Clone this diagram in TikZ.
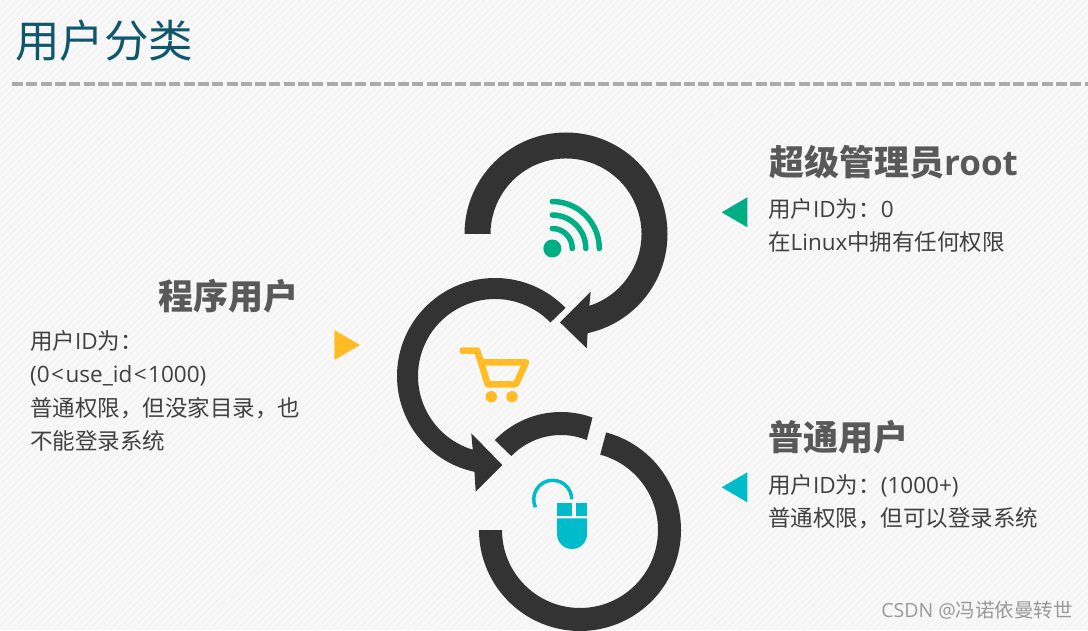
\documentclass[tikz,border=0pt]{standalone}
\usepackage{fontspec}
\setmainfont{Open Sans}
\newfontfamily\cjk{Noto Sans CJK SC}
\newcommand{\wcolon}{\char"FF1A\relax}
\newcommand{\wcomma}{\char"FF0C\relax}
\usepackage{tikz}
\usetikzlibrary{positioning,patterns.meta}
\definecolor{ringdark}{RGB}{51,51,51}
\definecolor{titleteal}{RGB}{15,88,108}
\definecolor{headgrey}{RGB}{89,89,89}
\definecolor{bodygrey}{RGB}{64,64,64}
\definecolor{wifigreen}{RGB}{0,174,132}
\definecolor{cartyellow}{RGB}{255,188,36}
\definecolor{mouseteal}{RGB}{0,188,203}
\definecolor{paper}{RGB}{245,245,245}

\begin{document}
\begin{tikzpicture}[x=1pt, y=1pt,
    ring/.style={fill=ringdark},
    heading/.style={inner sep=0pt, anchor=base west, text=headgrey, font=\fontsize{35}{35}\selectfont\bfseries},
    body/.style={inner sep=0pt, anchor=north west, align=left, text=bodygrey,
                 font=\fontsize{22.5}{33.5}\selectfont},
    curved/.style={line width=5.5pt, line cap=round}]
\useasboundingbox (0,0) rectangle (1088,630);
\clip (0,0) rectangle (1088,630);
% background
\fill[paper] (0,0) rectangle (1088,630);
\fill[pattern={Lines[angle=45,distance=5pt,line width=1pt]}, pattern color=white!75!paper] (0,0) rectangle (1088,630);

% title
\node[inner sep=0pt, anchor=base west, text=titleteal, font=\fontsize{44.5}{44.5}\selectfont\cjk] (title) at (15,572) {用户分类};
\coordinate (rulestart) at (12,546);
\coordinate (ruleend) at (1088,546);
\draw[line width=4pt, color=black!33, dash pattern=on 11pt off 3.3pt] (rulestart) -- (ruleend);

% rings
\coordinate (ringa) at (566,396);
\coordinate (ringb) at (495,254);
\coordinate (ringc) at (580,100);
\coordinate (ringd) at (561,126);
\fill[ring] ([shift={(180:101.5)}]ringa) arc[start angle=180, end angle=-77.7, radius=101.5]
    -- (586.7,281.7) -- (560,307.7) -- (590.7,338.3)
    -- ([shift={(-72:75.5)}]ringa) arc[start angle=-72, end angle=180, radius=75.5] -- cycle;
\fill[ring] ([shift={(44:98)}]ringb) arc[start angle=44, end angle=257.9, radius=98]
    -- (475.7,138.3) -- (502.3,165) -- (471.3,196.7)
    -- ([shift={(253.2:77)}]ringb) arc[start angle=253.2, end angle=44, radius=77] -- cycle;
\fill[ring] ([shift={(75:101)}]ringc) arc[start angle=75, end angle=-180, radius=101]
    -- ([shift={(-180:78)}]ringc) arc[start angle=-180, end angle=75, radius=78] -- cycle;
\fill[ring] ([shift={(70:92)}]ringd) arc[start angle=70, end angle=136, radius=92]
    -- ([shift={(136:69)}]ringd) arc[start angle=136, end angle=68, radius=69] -- cycle;

% wifi
\coordinate (wifi) at (552.3,381.5);
\fill[wifigreen] (wifi) circle[radius=9];
\foreach \r in {20,33.5,47}
  \draw[curved, wifigreen] ([shift={(90:\r)}]wifi) arc[start angle=90, end angle=0, radius=\r];

% cart
\draw[curved, line width=6.5pt, cartyellow, line join=round] (462.5,279.3) -- (477.3,279.3) -- (487.7,245.7) -- (516,245.7) -- (526,267.7) -- (483,267.7);
\fill[cartyellow] (491.3,233.3) circle[radius=5.7];
\fill[cartyellow] (512,233.3) circle[radius=5.7];

% mouse
\coordinate (cable) at (552.7,130.7);
\draw[line width=3.5pt, mouseteal] ([shift={(0:19)}]cable) arc[start angle=0, end angle=205, radius=19];
\fill[mouseteal] (557,127) rectangle (572.3,114);
\fill[mouseteal] (575.7,127) rectangle (587,114);
\fill[mouseteal] (557,111.7) -- (587,111.7) -- (587,96) arc[start angle=0, end angle=-180, radius=15] -- cycle;

% markers
\fill[wifigreen] (721.7,417.7) -- (747.3,432.7) -- (747.3,402.7) -- cycle;
\fill[cartyellow] (360,285) -- (334.3,300) -- (334.3,270) -- cycle;
\fill[mouseteal] (721.7,142.7) -- (747.3,157.7) -- (747.3,127.7) -- cycle;

% labels
\node[heading] (roothead) at (769,454) {{\cjk 超级管理员}root};
\node[body] (rootbody) at (768,432) {{\cjk 用户}ID{\cjk 为\wcolon}0\\{\cjk 在}Linux{\cjk 中拥有任何权限}};
\node[heading] (apphead) at (158,320) {\cjk 程序用户};
\node[body] (appbody) at (30,300) {{\cjk 用户}ID{\cjk 为\wcolon}\\(0\kern1.5pt<\kern1.5pt use\_id\kern1.5pt<\kern1.5pt 1000)\\{\cjk 普通权限\wcomma 但没家目录\wcomma 也}\\{\cjk 不能登录系统}};
\node[heading] (userhead) at (768,179) {\cjk 普通用户};
\node[body] (userbody) at (768,156) {{\cjk 用户}ID{\cjk 为\wcolon}(1000+)\\{\cjk 普通权限\wcomma 但可以登录系统}};
\node[inner sep=0pt, anchor=base east, text=black!40, font=\fontsize{19.5}{19.5}\selectfont] (mark) at (1073,13) {CSDN @{\cjk 冯诺依曼转世}};
\end{tikzpicture}
\end{document}
